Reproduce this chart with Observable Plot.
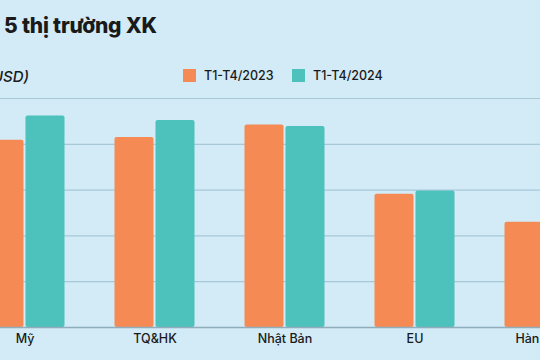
<!DOCTYPE html>
<html>
<head>
<meta charset="utf-8">
<script src="https://cdn.jsdelivr.net/npm/d3@7"></script>
<script src="https://cdn.jsdelivr.net/npm/@observablehq/plot@0.6"></script>
<style>
  html, body { margin: 0; padding: 0; }
  body { width: 540px; height: 360px; overflow: hidden; background: #d2ebf7; position: relative; font-family: Inter, "Open Sans", sans-serif; color: #1a1a1a; }
  #title { position: absolute; left: 4px; top: 15px; font-size: 21px; line-height: 1; font-weight: 800; white-space: nowrap; letter-spacing: -0.2px; }
  #subtitle { position: absolute; right: 511px; top: 69px; font-size: 15px; line-height: 1; font-style: italic; font-weight: 500; white-space: nowrap; }
  .leg { position: absolute; top: 69px; display: flex; align-items: center; font-size: 12.5px; line-height: 13px; font-weight: 500; white-space: nowrap; }
  .sw { width: 13px; height: 13px; margin-right: 8px; }
  #chart { position: absolute; left: 0; top: 90px; width: 540px; height: 270px; overflow: hidden; }
  #chart svg { overflow: hidden; }
</style>
</head>
<body>
<div id="title"></div>
<div id="subtitle"></div>
<div id="legend"></div>
<div id="chart"></div>
<script>
const titleText = "5 thị trường XK";
const subtitleText = "(triệu USD)";
const categories = ["Mỹ", "TQ&HK", "Nhật Bản", "EU", "Hàn Quốc"];
const seriesNames = ["T1-T4/2023", "T1-T4/2024"];
const seriesColors = ["#f68a55", "#4dc1bc"];
const values2023 = [409, 415, 442, 291, 230];
const values2024 = [462, 452, 439, 298, 222];
const gridTicks = [100, 200, 300, 400, 500];

document.getElementById("title").textContent = titleText;
document.getElementById("subtitle").textContent = subtitleText;

const legend = document.getElementById("legend");
const legendLefts = [183, 292];
seriesNames.forEach((name, i) => {
  const item = document.createElement("div");
  item.className = "leg";
  item.style.left = legendLefts[i] + "px";
  const sw = document.createElement("div");
  sw.className = "sw";
  sw.style.background = seriesColors[i];
  const t = document.createElement("span");
  t.textContent = name;
  item.appendChild(sw);
  item.appendChild(t);
  legend.appendChild(item);
});

const data2023 = categories.map((c, i) => ({category: c, value: values2023[i]}));
const data2024 = categories.map((c, i) => ({category: c, value: values2024[i]}));

const chart = Plot.plot({
  width: 540,
  height: 270,
  marginTop: 8,
  marginBottom: 33,
  marginLeft: 0,
  marginRight: 0,
  style: {background: "transparent", fontFamily: "Inter, 'Open Sans', sans-serif", overflow: "hidden"},
  x: {type: "band", domain: categories, range: [-42.25, 610.25], paddingInner: 0.7, paddingOuter: 0.35, label: null},
  y: {domain: [0, 500], label: null, axis: null},
  marks: [
    Plot.ruleY(gridTicks, {stroke: "#a7c8d7", strokeWidth: 1.2}),
    Plot.barY(data2023, {x: "category", y: "value", fill: seriesColors[0], dx: -20.5, rx: 2}),
    Plot.barY(data2024, {x: "category", y: "value", fill: seriesColors[1], dx: 20.5, rx: 2}),
    Plot.ruleY([0], {stroke: "#8fadbb", strokeWidth: 1.5}),
    Plot.axisX({tickSize: 0, tickPadding: 7, fontSize: 12.5, fontWeight: 500, color: "#1a1a1a", label: null})
  ]
});
document.getElementById("chart").appendChild(chart);
</script>
</body>
</html>
